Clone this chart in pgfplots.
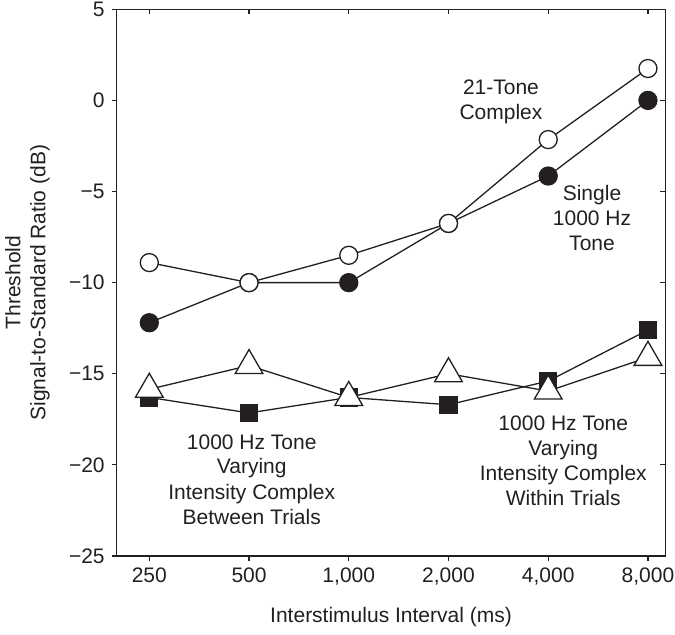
\documentclass[border=0pt]{standalone}
\usepackage{fontspec}
\setmainfont{Liberation Sans}
\usepackage{pgfplots}
\pgfplotsset{compat=1.18}
\definecolor{ink}{RGB}{35,31,32}

\begin{document}
\begin{tikzpicture}[font=\fontsize{10.5}{12.5}\selectfont]
\pgfplotsset{
  frame/.style={
    scale only axis, width=274.3pt, height=273.35pt,
    xmin=-0.327, xmax=5.174, ymin=-25, ymax=5,
    xtick={0,...,5}, ytick={-25,-20,...,5},
    major tick length=2.5pt,
    axis line style={line width=0.6pt, ink},
    every tick/.style={line width=0.6pt, ink},
    tick label style={text=ink},
  },
  line/.style={ink, line width=0.65pt, mark options={line width=0.65pt, draw=ink, solid}},
}
% bottom/left ticks point outward and carry the labels
\begin{axis}[frame, name=main,
  xtick pos=left, ytick pos=left, tick align=outside,
  xticklabels={250,500,{1,000},{2,000},{4,000},{8,000}},
  yticklabels={−25,−20,−15,−10,−5,0,5},
  xlabel={Interstimulus Interval (ms)},
  ylabel={Threshold\\Signal-to-Standard Ratio (dB)},
  xlabel style={at={([yshift=-30.75pt]axis description cs:0.5,0)}, anchor=center, text=ink},
  ylabel style={at={([xshift=-44.6pt]axis description cs:0,0.5)}, anchor=center, align=center, text=ink},
]
% Single 1000 Hz tone
\addplot[line, mark=*, mark size=4.5pt, mark options={fill=ink}]
  coordinates {(0,-12.2) (1,-10.0) (2,-10.0) (3,-6.75) (4,-4.15) (5,0.0)};
% 21-tone complex
\addplot[line, mark=*, mark size=4.5pt, mark options={fill=white}]
  coordinates {(0,-8.9) (1,-10.0) (2,-8.5) (3,-6.75) (4,-2.15) (5,1.75)};
% 1000 Hz tone, intensity complex varying between trials
\addplot[line, mark=square*, mark size=4.25pt, mark options={fill=ink}]
  coordinates {(0,-16.3) (1,-17.15) (2,-16.3) (3,-16.7) (4,-15.4) (5,-12.6)};
% 1000 Hz tone, intensity complex varying within trials
\addplot[line, mark=triangle*, mark size=8pt, mark options={fill=white}]
  coordinates {(0,-15.85) (1,-14.55) (2,-16.3) (3,-15.0) (4,-15.95) (5,-14.1)};

\node[align=center, text=ink] at (axis cs:3.526,-0.1) {21-Tone\\Complex};
\node[align=center, text=ink] at (axis cs:4.439,-6.455) {Single\\1000 Hz\\Tone};
\node[align=center, text=ink] at (axis cs:1.027,-20.79) {1000 Hz Tone\\Varying\\Intensity Complex\\Between Trials};
\node[align=center, text=ink] at (axis cs:4.151,-19.75) {1000 Hz Tone\\Varying\\Intensity Complex\\Within Trials};
\end{axis}
% top/right ticks point into the frame
\begin{axis}[frame, at={(main.south west)}, anchor=south west,
  xtick pos=right, ytick pos=right, tick align=inside,
  xticklabels={}, yticklabels={}]
\end{axis}
\pgfresetboundingbox
\path[use as bounding box] ([xshift=-58.35pt,yshift=-39.5pt]main.south west)
  rectangle ([xshift=4.85pt,yshift=4.65pt]main.north east);
\end{tikzpicture}
\end{document}
